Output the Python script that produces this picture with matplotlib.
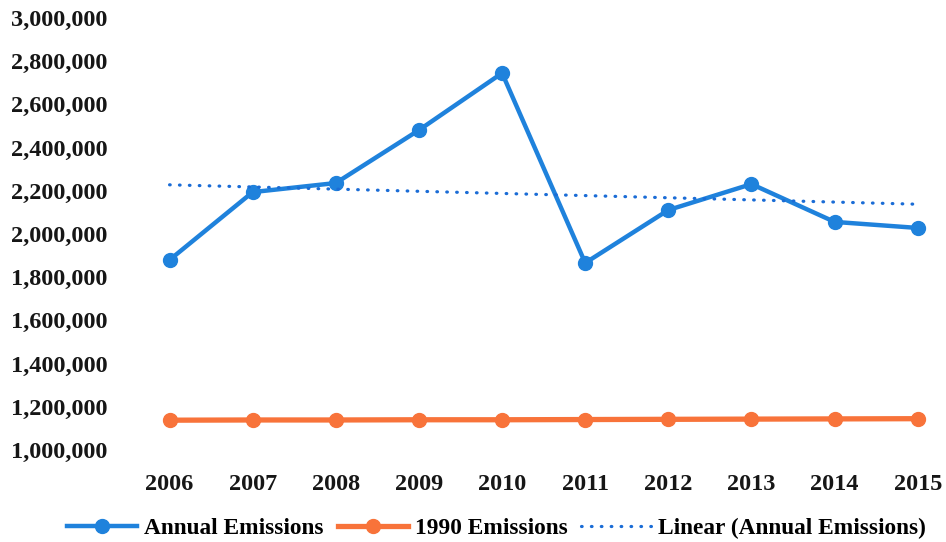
import numpy as np
from matplotlib import pyplot as plt
from matplotlib.ticker import FuncFormatter

# Emissions by year
years = ['2006', '2007', '2008', '2009', '2010', '2011', '2012', '2013', '2014', '2015']
annual = [1880000, 2194000, 2236000, 2481000, 2745000, 1866000, 2111000, 2231000, 2056000, 2028000]
baseline_1990 = [1138000, 1139000, 1139000, 1140000, 1140000, 1141000, 1142000, 1143000, 1144000, 1145000]

plt.rcParams['font.family'] = ['Liberation Serif', 'DejaVu Serif']
plt.rcParams['font.weight'] = 'bold'

blue = '#1f82dc'
orange = '#f8733a'
trend_blue = '#1a6cd6'

x = np.arange(len(years))
# least-squares trend of the annual series
coef = np.polyfit(x, annual, 1)
trend = np.polyval(coef, x)

fig = plt.figure(figsize=(9.46, 5.42), dpi=100)
ax = fig.add_axes([128/946, 92/542, 818/946, 432/542])

ax.plot(x, annual, '-o', color=blue, lw=3.2, markersize=10, label='Annual Emissions')
ax.plot(x, baseline_1990, '-o', color=orange, lw=3.8, markersize=10, label='1990 Emissions')
ax.plot(x, trend, color=trend_blue, lw=2.3, linestyle=(0, (0.2, 2.9)), dash_capstyle='round',
        label='Linear (Annual Emissions)')

ax.set_xlim(-0.5, 9.34)
ax.set_ylim(1000000, 3000000)
ax.set_yticks(np.arange(1000000, 3000001, 200000))
ax.yaxis.set_major_formatter(FuncFormatter(lambda v, p: f'{int(v):,}'))
ax.set_xticks(x)
ax.set_xticklabels(years)
ax.tick_params(axis='both', length=0, labelsize=17.5, colors='#161616')
ax.tick_params(axis='y', pad=15)
ax.tick_params(axis='x', pad=17)
for s in ax.spines.values():
    s.set_visible(False)

fig.legend(loc='center', bbox_to_anchor=(0.525, 0.025), ncol=3, frameon=False,
           fontsize=16.8, handlelength=3.0, handletextpad=0.3, columnspacing=0.6)

plt.savefig('out.png', dpi=100)
